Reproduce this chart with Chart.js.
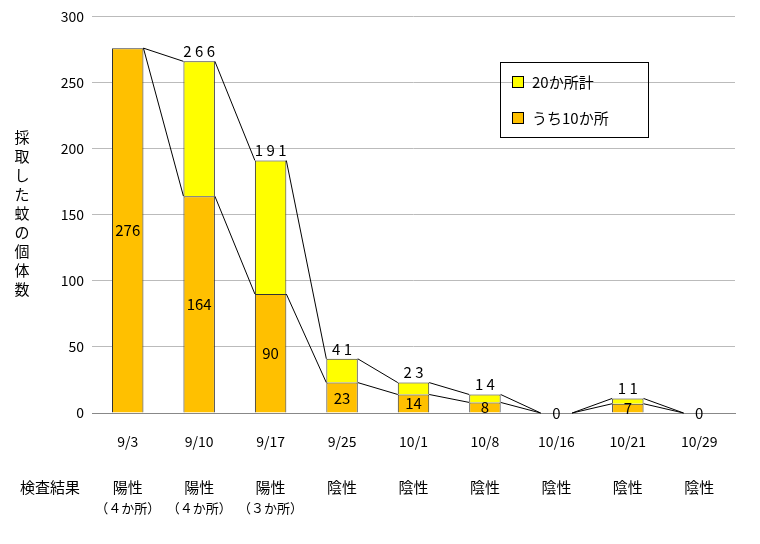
<!DOCTYPE html>
<html><head><meta charset="utf-8">
<script src="https://cdn.jsdelivr.net/npm/chart.js"></script>
<style>body{margin:0;background:#fff}#wrap{width:760px;height:544px}</style>
</head><body><div id="wrap"><canvas id="c" width="760" height="544"></canvas></div>
<script>
const dates = ['9/3','9/10','9/17','9/25','10/1','10/8','10/16','10/21','10/29'];
const inner10 = [276,164,90,23,14,8,0,7,0];
const total20 = [276,266,191,41,23,14,0,11,0];
const results = ['陽性','陽性','陽性','陰性','陰性','陰性','陰性','陰性','陰性'];
const resultSub = ['（４か所）','（４か所）','（３か所）','','','','','',''];
const extra = total20.map((t, i) => t - inner10[i]);
const FONT = '"Noto Sans CJK JP", "DejaVu Sans", sans-serif';

const overlay = {
    id: 'overlay',
    afterDatasetsDraw(chart) {
        const ctx = chart.ctx, y = chart.scales.y;
        const bars = chart.getDatasetMeta(0).data;
        ctx.save();
        ctx.strokeStyle = '#000'; ctx.lineWidth = 1;
        [total20, inner10].forEach(arr => {
            for (let i = 0; i < arr.length - 1; i++) {
                const a = bars[i], b = bars[i + 1];
                ctx.beginPath();
                ctx.moveTo(a.x + a.width / 2, y.getPixelForValue(arr[i]));
                ctx.lineTo(b.x - b.width / 2, y.getPixelForValue(arr[i + 1]));
                ctx.stroke();
            }
        });
        ctx.fillStyle = '#000'; ctx.font = '15px ' + FONT;
        ctx.textAlign = 'center'; ctx.textBaseline = 'middle';
        bars.forEach((bar, i) => {
            ctx.fillText(String(inner10[i]), bar.x, y.getPixelForValue(inner10[i] / 2));
            if (extra[i] > 0) {
                ctx.fillText(String(total20[i]).split('').join(' '), bar.x, y.getPixelForValue(total20[i]) - 10);
            }
        });
        // y axis title, upright characters
        const title = '採取した蚊の個体数';
        for (let k = 0; k < title.length; k++) ctx.fillText(title[k], 22, 137 + k * 19);
        // results rows
        ctx.fillText('検査結果', 50, 487);
        bars.forEach((bar, i) => {
            ctx.fillText(results[i], bar.x, 487);
            if (resultSub[i]) { ctx.font = '13px ' + FONT; ctx.fillText(resultSub[i], bar.x, 508); ctx.font = '15px ' + FONT; }
        });
        // legend
        ctx.strokeStyle = '#000';
        ctx.strokeRect(500.5, 62.5, 148, 75);
        [['20か所計', '#FFFF00', 82], ['うち10か所', '#FFC000', 118]].forEach(([t, c, ly]) => {
            ctx.fillStyle = c; ctx.fillRect(512, ly - 6, 12, 12);
            ctx.strokeRect(512.5, ly - 5.5, 11, 11);
            ctx.fillStyle = '#000'; ctx.textAlign = 'left';
            ctx.fillText(t, 532, ly);
        });
        ctx.restore();
    }
};

new Chart(document.getElementById('c'), {
    type: 'bar',
    data: {
        labels: dates,
        datasets: [
            { label: 'うち10か所', data: inner10, backgroundColor: '#FFC000', borderColor: '#333', borderWidth: 1 },
            { label: '20か所計', data: extra, backgroundColor: '#FFFF00', borderColor: '#333', borderWidth: 1 }
        ]
    },
    options: {
        responsive: false, animation: false,
        layout: { padding: { left: 0, right: 25, top: 14, bottom: 0 } },
        datasets: { bar: { barPercentage: 0.44, categoryPercentage: 1 } },
        plugins: { legend: { display: false }, tooltip: { enabled: false } },
        scales: {
            x: {
                stacked: true,
                grid: { display: false },
                border: { color: '#888' },
                ticks: { color: '#000', font: { size: 14, family: FONT }, padding: 12 },
                afterFit(s) { s.height = 131; }
            },
            y: {
                stacked: true, min: 0, max: 300,
                ticks: { stepSize: 50, color: '#000', font: { size: 14, family: FONT }, padding: 8 },
                grid: { color: '#bbb', drawTicks: false },
                border: { display: false },
                afterFit(s) { s.width = 92; }
            }
        }
    },
    plugins: [overlay]
});
</script></body></html>
